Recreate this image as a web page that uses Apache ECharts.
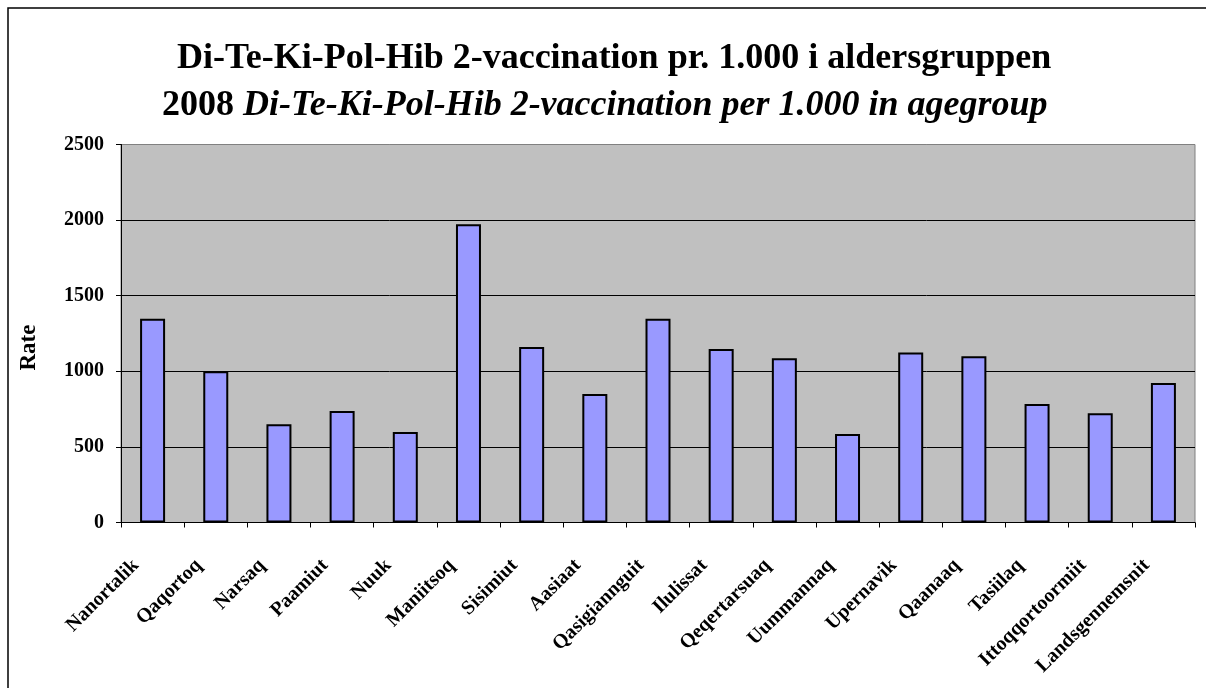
<!DOCTYPE html>
<html>
<head>
<meta charset="utf-8">
<script src="https://cdn.jsdelivr.net/npm/echarts@6/dist/echarts.min.js"></script>
<style>
html,body{margin:0;padding:0;background:#fff;}
#chart{width:1206px;height:688px;}
</style>
</head>
<body>
<div id="chart"></div>
<script>
const titleLine1 = 'Di-Te-Ki-Pol-Hib 2-vaccination pr. 1.000 i aldersgruppen';
const titleYear = '2008';
const titleLine2 = 'Di-Te-Ki-Pol-Hib 2-vaccination per 1.000 in agegroup';
const yAxisName = 'Rate';
const categories = ['Nanortalik','Qaqortoq','Narsaq','Paamiut','Nuuk','Maniitsoq','Sisimiut','Aasiaat','Qasigiannguit','Ilulissat','Qeqertarsuaq','Uummannaq','Upernavik','Qaanaaq','Tasiilaq','Ittoqqortoormiit','Landsgennemsnit'];
const rates = [1348, 1001, 650, 738, 599, 1973, 1161, 850, 1348, 1148, 1086, 586, 1125, 1099, 784, 722, 923];
const yTicks = [0, 500, 1000, 1500, 2000, 2500];

const FONT = "'Liberation Serif', 'Times New Roman', serif";
const chart = echarts.init(document.getElementById('chart'), null, {renderer: 'canvas'});
chart.setOption({
  backgroundColor: '#ffffff',
  animation: false,
  graphic: [{
    type: 'rect',
    shape: {x: 8, y: 8, width: 1300, height: 800},
    style: {fill: 'none', stroke: '#000', lineWidth: 1.5},
    silent: true
  }],
  title: [{
    text: titleLine1,
    left: 172, top: 36,
    textStyle: {fontFamily: FONT, fontSize: 36, fontWeight: 'bold', color: '#000', lineHeight: 36}
  }, {
    text: '{n|' + titleYear + ' }{i|' + titleLine2 + '}',
    left: 157, top: 83,
    textStyle: {
      fontFamily: FONT, fontSize: 36, fontWeight: 'bold', color: '#000', lineHeight: 36,
      rich: {
        n: {fontFamily: FONT, fontSize: 36, fontWeight: 'bold', color: '#000', lineHeight: 36},
        i: {fontFamily: FONT, fontSize: 36, fontWeight: 'bold', fontStyle: 'italic', color: '#000', lineHeight: 36}
      }
    }
  }],
  grid: {
    left: 121, right: 11, top: 144.5, bottom: 165.5,
    show: true, backgroundColor: '#C0C0C0', borderColor: '#808080', borderWidth: 1
  },
  xAxis: {
    type: 'category',
    data: categories,
    axisLine: {lineStyle: {color: '#000', width: 1}},
    axisTick: {show: true, alignWithLabel: false, length: 5, lineStyle: {color: '#000'}},
    axisLabel: {
      interval: 0, rotate: 45, margin: 23,
      padding: [0, 24, 0, 0],
      fontFamily: FONT, fontSize: 20, fontWeight: 'bold', color: '#000'
    },
    splitLine: {show: false}
  },
  yAxis: {
    type: 'value',
    min: yTicks[0], max: yTicks[yTicks.length - 1], interval: yTicks[1] - yTicks[0],
    name: yAxisName,
    nameLocation: 'middle',
    nameGap: 80,
    nameTextStyle: {fontFamily: FONT, fontSize: 23, fontWeight: 'bold', color: '#000', padding: [0, 28, 0, 0]},
    axisLine: {show: true, lineStyle: {color: '#000', width: 1}},
    axisTick: {show: true, length: 5, lineStyle: {color: '#000'}},
    axisLabel: {margin: 17, fontFamily: FONT, fontSize: 20, fontWeight: 'bold', color: '#000',
      formatter: function (v) { return String(v); }},
    splitLine: {show: true, lineStyle: {color: ['#000', '#000', '#000', '#000', '#000', '#808080'], width: 1}}
  },
  series: [{
    type: 'bar',
    data: rates,
    barWidth: 25,
    itemStyle: {color: '#9999FF', borderColor: '#000', borderWidth: 2},
    silent: true
  }]
});
</script>
</body>
</html>
